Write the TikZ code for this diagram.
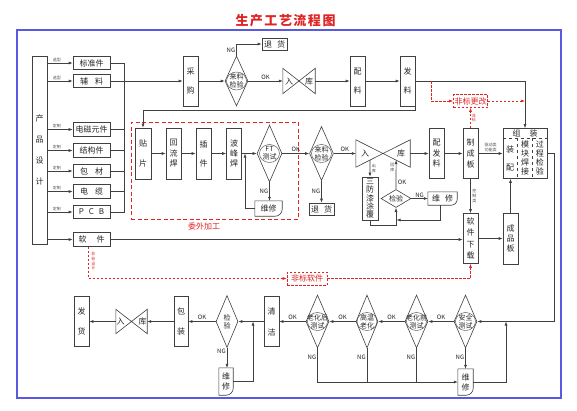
\documentclass[tikz,border=0pt]{standalone}
\usepackage{fontspec}
\newfontfamily\cjk{Noto Sans CJK SC}
\usepackage{tikz}
\usetikzlibrary{arrows.meta, positioning, shapes.geometric, calc}
\definecolor{linegray}{HTML}{404040}
\definecolor{flowred}{HTML}{E02424}
\definecolor{frameblue}{HTML}{5A5AE0}

\begin{document}
\begin{tikzpicture}[x=1pt, y=-1pt,
    font=\cjk\fontsize{8}{9.6}\selectfont,
    every node/.style={inner sep=0pt, text=black!85},
    box/.style={rectangle, draw=linegray, line width=0.6pt, align=center},
    sbox/.style={box, minimum width=37pt, minimum height=13.5pt},
    vbox/.style={box, minimum width=15pt, minimum height=50pt},
    rbox/.style={rectangle, draw=flowred, line width=0.6pt, dash pattern=on 2.5pt off 1.5pt, text=flowred, minimum height=13pt},
    rgroup/.style={rectangle, draw=flowred, line width=0.7pt, dash pattern=on 4pt off 2.5pt},
    dia/.style={diamond, draw=linegray, line width=0.6pt, minimum width=23pt, minimum height=53pt},
    dtext/.style={align=center, font=\cjk\fontsize{7}{8}\selectfont},
    tie/.style={rectangle, minimum height=25pt},
    fix/.style={align=center},
    arrow/.style={-{Latex[length=4pt,width=3pt]}, draw=linegray, line width=0.6pt},
    conn/.style={draw=linegray, line width=0.6pt},
    rarrow/.style={-{Latex[length=4pt,width=3pt]}, draw=flowred, line width=0.6pt, dash pattern=on 2.5pt off 1.5pt},
    tag/.style={font=\cjk\fontsize{6}{7}\selectfont},
    tiny/.style={font=\cjk\fontsize{4}{4.6}\selectfont, align=center, text=black!70},
]
\path[fill=white, use as bounding box] (0,0) rectangle (577,410);

% Frame and title
\draw[frameblue, line width=1.2pt] (17,30) rectangle (561,398);
\node[font=\cjk\bfseries\fontsize{13}{15}\selectfont, text=flowred] (ttl) at (285.5,21)
  {生\hspace{1.5pt}产\hspace{1.5pt}工\hspace{1.5pt}艺\hspace{1.5pt}流\hspace{1.5pt}程\hspace{1.5pt}图};

% Design and materials
\node[box, minimum width=15pt, minimum height=188pt] (pd) at (39.5,150) {产\\[11.4pt]品\\[11.4pt]设\\[11.4pt]计};
\node[sbox] (bzj) at (91.5,63) {标准件};
\node[sbox] (fl0) at (91.5,81) {辅\hspace{7pt}料};
\node[sbox] (dcyj) at (91.5,129.5) {电磁元件};
\node[sbox] (jgj) at (91.5,150.5) {结构件};
\node[sbox] (bc) at (91.5,171) {包\hspace{7pt}材};
\node[sbox] (dl) at (91.5,191.5) {电\hspace{7pt}缆};
\node[sbox] (pcb) at (91.5,212) {P\hspace{5pt}C\hspace{5pt}B};
\node[sbox] (rj) at (91.5,239.5) {软\hspace{10pt}件};

\foreach \m/\t in {bzj/选型, fl0/选型, dcyj/定制, jgj/定制, bc/定制, dl/定制, pcb/定制}
  \draw[arrow] (pd.east |- \m) -- node[tiny, above=1pt, pos=0.38] {\t} (\m);
\draw[arrow] (pd.east |- rj) -- (rj);

\coordinate (bus) at (124,63);
\draw[conn] (bzj.east) -- (bus) |- (pcb.east);
\foreach \m in {dcyj,jgj,bc,dl}
  \draw[conn] (\m.east) -- (\m.east -| bus);

% Purchasing
\node[vbox] (cg) at (190.5,81) {采\\[9.4pt]购};
\draw[arrow] (fl0) -- (cg);
\node[dia, minimum height=50pt, label={[dtext]center:{来料\\检验}}] (ll1) at (236.5,81) {};
\draw[arrow] (cg) -- (ll1);
\node[box, minimum width=25pt, minimum height=12pt] (th1) at (274.5,44) {退\hspace{5pt}货};
\draw[arrow] (ll1.north) |- node[tag, left=1pt, pos=0.25] {NG} (th1);
\node[tie, minimum width=32pt] (rk1) at (299,81) {入\hspace{12pt}库};
\draw[arrow] (ll1) -- node[tag, above=1.5pt] {OK} (rk1);
\node[vbox] (pl) at (357.5,81) {配\\[9.4pt]料};
\draw[arrow] (rk1) -- (pl);
\node[vbox] (fl) at (407.5,81) {发\\[9.4pt]料};
\draw[arrow] (pl) -- (fl);

% Assembly
\node[box, minimum width=44pt, minimum height=50pt] (zz) at (525,153.5) {};
\node (zzh) at ($(zz.north)+(0,5)$) {组\hspace{9pt}装};
\draw[conn, dashed] ($(zz.north west)+(0,10)$) -- ($(zz.north east)+(0,10)$);
\draw[conn, dashed] ($(zz.north west)+(15,10)$) -- ($(zz.south west)+(15,0)$);
\draw[conn, dashed] ($(zz.north east)+(-15,10)$) -- ($(zz.south east)+(-15,0)$);
\node[fix] (zzp) at ($(zz.north west)+(7.5,30)$) {装\\[8.4pt]配};
\node[fix] (zzm) at ($(zz.north)+(0,30)$) {模\\[-0.6pt]块\\[-0.6pt]焊\\[-0.6pt]接};
\node[fix] (zzj) at ($(zz.north east)+(-7.5,30)$) {过\\[-0.6pt]程\\[-0.6pt]检\\[-0.6pt]验};
\draw[arrow] (fl) -| (zz);

% Non-standard change
\node[rbox, minimum width=34pt] (fbgg) at (470.5,101) {非标更改};
\draw[rarrow] ($(fl.east)+(16,0)$) |- (fbgg);
\draw[rarrow] (fbgg) -- (fbgg -| zz);

% Outsourced processing
\node[rgroup, minimum width=167pt, minimum height=97pt] (ww) at (214.5,170.5) {};
\node[text=flowred] (wwt) at (204,226) {委外加工};
\node[vbox, minimum width=16pt, minimum height=51pt] (tp) at (143,153.5) {贴\\[10.4pt]片};
\node[vbox, minimum height=51pt] (hlh) at (173.5,153.5) {回\\[1pt]流\\[1pt]焊};
\node[vbox, minimum height=51pt] (cj) at (203.5,153.5) {插\\[9.4pt]件};
\node[vbox, minimum height=51pt] (bfh) at (234,153.5) {波\\[0.6pt]峰\\[0.6pt]焊};
\draw[arrow] (fl.south east) |- ($(tp.north)+(0,-17)$) -- (tp);
\draw[arrow] (tp) -- (hlh);
\draw[arrow] (hlh) -- (cj);
\draw[arrow] (cj) -- (bfh);
\node[dia, minimum width=25pt, minimum height=57pt, label={[dtext]center:{FT\\测试}}] (ft) at (269.5,153.5) {};
\draw[arrow] (bfh) -- (ft);
\node[fix, minimum width=27pt, minimum height=15pt] (wx1) at (268.5,208.5) {维修};
\draw[arrow] (ft.south) -- node[tag, left=1pt] {NG} (ft.south |- wx1.north);
\coordinate (jn1) at (245,153.5);
\draw[arrow] (wx1.west) -| (jn1);

% Incoming check and coating
\node[dia, minimum width=24pt, minimum height=54pt, label={[dtext]center:{来料\\检验}}] (ll2) at (321.5,153.5) {};
\draw[arrow] (ft) -- node[tag, above=1.5pt] {OK} (ll2);
\node[box, minimum width=25pt, minimum height=12pt] (th2) at (321.5,209) {退\hspace{5pt}货};
\draw[arrow] (ll2) -- node[tag, left=1pt] {NG} (th2);
\node[tie, minimum width=54pt, minimum height=27pt] (rk2) at (383,153.5) {入\hspace{28pt}库};
\draw[arrow] (ll2) -- node[tag, above=1.5pt] {OK} (rk2);
\node[box, minimum width=16pt, minimum height=43pt] (sf) at (370,198.5) {三\\[-1.3pt]防\\[-1.3pt]漆\\[-1.3pt]涂\\[-1.3pt]覆};
\draw[arrow] ($(rk2.south west)!0.52!(rk2.center)$) -- node[tiny, right=1.5pt] {出\\库} (sf);
\node[dia, minimum width=30pt, minimum height=18pt, label={[dtext]center:检验}] (jy2) at (396,198.5) {};
\draw[arrow] (jy2) -- node[tiny, left=1.5pt, pos=0.75] {回\\库} node[tag, right=1.5pt, pos=0.25] {OK} ($(rk2.center)!0.48!(rk2.south east)$);
\node[fix, minimum width=29pt, minimum height=13pt] (wx2) at (442.5,198.5) {维\hspace{5pt}修};
\draw[arrow] (jy2) -- node[tag, above=1pt] {NG} (wx2);
\draw[arrow] (sf.south) -- ++(0,5) -| (jy2.south);
\coordinate (jn2) at (396.5,220);
\draw[arrow] ([xshift=-2pt]wx2.south) |- (jn2);

% Boards and software
\node[vbox] (pfl) at (436.5,153.5) {配\\[1pt]发\\[1pt]料};
\draw[arrow] (rk2) -- (pfl);
\node[vbox] (zcb) at (470.5,153.5) {制\\[1.4pt]成\\[1.4pt]板};
\draw[arrow] (pfl) -- (zcb);
\draw[arrow] (zcb) -- node[tiny, above=1.5pt] {驱动类\\功能类} (zz);
\draw[rarrow] (zcb) -- node[tiny, right=1pt, text=flowred] {非\\标} (fbgg);
\node[vbox] (rjxz) at (470.5,238.5) {软\\[1.9pt]件\\[1.9pt]下\\[1.9pt]载};
\draw[arrow] (zcb) -- node[tiny, right=1.5pt] {控\\制\\类} (rjxz);
\draw[arrow] (rj) -- (rj -| rjxz.west);
\node[vbox, minimum height=51pt] (cpb) at (510.5,238.5) {成\\[0.4pt]品\\[0.4pt]板};
\draw[arrow] (rjxz) -- (cpb);
\draw[arrow] (cpb.north) -- (cpb.north |- zz.south);

% Non-standard software
\node[rbox, minimum width=40pt] (fbrj) at (307,278.5) {非标软件};
\draw[rarrow] ([xshift=-3pt]rj.south) |- node[tiny, right=2.5pt, pos=0.23, text=flowred] {非\\标\\设\\计} (fbrj);
\draw[rarrow] (fbrj) -| (rjxz);

% Final tests
\node[dia, label={[dtext]center:{安全\\测试}}] (aq) at (465.5,321.5) {};
\draw[arrow] (zz.east) -- ++(7,0) |- (aq);
\node[fix, minimum width=15pt, minimum height=26pt] (wx4) at (465.5,382) {维\\[0.4pt]修};
\draw[arrow] (aq) -- node[tag, left=1pt, pos=0.43] {NG} (wx4);
\coordinate (jn4) at (506,321.5);
\draw[arrow] (wx4) -| (jn4);
\node[dia, label={[dtext]center:{老化前\\测试}}] (lhq) at (416.5,321.5) {};
\draw[arrow] (aq) -- node[tag, above=1.5pt] {OK} (lhq);
\node[dia, minimum width=22pt, label={[dtext]center:{高温\\老化}}] (gw) at (367,321.5) {};
\draw[arrow] (lhq) -- node[tag, above=1.5pt] {OK} (gw);
\node[dia, label={[dtext]center:{老化后\\测试}}] (lhh) at (317.5,321.5) {};
\draw[arrow] (gw) -- node[tag, above=1.5pt] {OK} (lhh);
\draw[arrow] (lhh.south) |- node[tag, left=1pt, pos=0.13] {NG} (wx4);
\foreach \d in {gw,lhq}
  \draw[conn] (\d.south) -- node[tag, left=1pt, pos=0.27] {NG} (\d.south |- wx4);

% Cleaning, packing, shipping
\node[vbox] (qj) at (271.5,321.5) {清\\[11.4pt]洁};
\draw[arrow] (lhh) -- node[tag, above=1.5pt] {OK} (qj);
\node[dia, minimum width=22pt, minimum height=52pt, label={[dtext]center:{检\\验}}] (jy3) at (227,321.5) {};
\draw[arrow] (qj) -- (jy3);
\node[fix, minimum width=14pt, minimum height=27pt] (wx3) at (226,381.5) {维\\[0.4pt]修};
\draw[arrow] (jy3.south) -- node[tag, left=1pt, pos=0.15] {NG} (jy3.south |- wx3.north);
\coordinate (jn3) at (253,321.5);
\draw[arrow] (wx3) -| (jn3);
\node[vbox, minimum width=14pt] (bz) at (181,321.5) {包\\[10.4pt]装};
\draw[arrow] (jy3) -- node[tag, above=1.5pt] {OK} (bz);
\node[tie, minimum width=31pt, minimum height=24pt] (rk3) at (131.5,321.5) {入\hspace{14pt}库};
\draw[arrow] (bz) -- (rk3);
\node[vbox] (fh) at (81.5,321.5) {发\\[10.4pt]货};
\draw[arrow] (rk3) -- (fh);

% Bowties, repair outlines, test rings
\foreach \b in {rk1,rk2,rk3}
  \draw[conn] (\b.north west) -- (\b.south east) -- (\b.north east) -- (\b.south west) -- cycle;
\foreach \w/\r in {wx1/7,wx2/6,wx3/7,wx4/7}
  \draw[conn] (\w.south west) -- (\w.north west) -- (\w.north east) -- ($(\w.south east)+(0,-\r)$)
    to[out=-90, in=0] ($(\w.south east)+(-\r,0)$) -- cycle;
\foreach \d in {ll1,ft,ll2,lhh,gw,lhq,aq}
  \draw[conn, line width=0.4pt] (\d.center) ellipse [x radius=10pt, y radius=9pt];

\end{tikzpicture}
\end{document}
